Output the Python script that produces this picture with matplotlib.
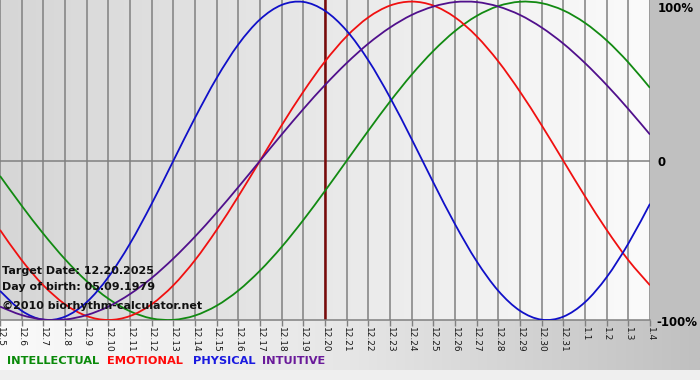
import numpy as np
import matplotlib
matplotlib.use("Agg")
import matplotlib.pyplot as plt
from matplotlib.colors import LinearSegmentedColormap
from matplotlib.path import Path
from matplotlib.patches import PathPatch, Rectangle

# dates on the axis (12.5 .. 1.4), target date sits at index 15
dates = ["12.%d" % d for d in range(5, 32)] + ["1.1", "1.2", "1.3", "1.4"]
target_idx = 15

# cycle values, one per day
intellectual = [-0.095, -0.282, -0.458, -0.618, -0.756, -0.866, -0.945, -0.990, -0.999, -0.972,
                -0.910, -0.815, -0.690, -0.541, -0.372, -0.189, 0.000, 0.189, 0.372, 0.541,
                0.690, 0.815, 0.910, 0.972, 0.999, 0.990, 0.945, 0.866, 0.756, 0.618, 0.458]
emotional = [-0.434, -0.624, -0.782, -0.901, -0.975, -1.000, -0.975, -0.901, -0.782, -0.624,
             -0.434, -0.223, 0.000, 0.223, 0.434, 0.624, 0.782, 0.901, 0.975, 1.000,
             0.975, 0.901, 0.782, 0.624, 0.434, 0.223, 0.000, -0.223, -0.434, -0.624, -0.782]
physical = [-0.817, -0.942, -0.998, -0.979, -0.888, -0.731, -0.520, -0.270, 0.000, 0.270,
            0.520, 0.731, 0.888, 0.979, 0.998, 0.942, 0.817, 0.631, 0.398, 0.136,
            -0.136, -0.398, -0.631, -0.817, -0.942, -0.998, -0.979, -0.888, -0.731, -0.520, -0.270]
intuitive = [-0.916, -0.969, -0.997, -0.997, -0.969, -0.916, -0.837, -0.736, -0.614, -0.476,
             -0.325, -0.165, 0.000, 0.165, 0.325, 0.476, 0.614, 0.736, 0.837, 0.916,
             0.969, 0.997, 0.997, 0.969, 0.916, 0.837, 0.736, 0.614, 0.476, 0.325, 0.165]

series = [("INTELLECTUAL", intellectual, "#128a12", "#0a8a0a"),
          ("EMOTIONAL", emotional, "#f01010", "#ff0a0a"),
          ("PHYSICAL", physical, "#1010c8", "#1a1ae0"),
          ("INTUITIVE", intuitive, "#50108c", "#6a1a9a")]


def smooth_path(xs, ys):
    # curve through every point (Catmull-Rom as cubic bezier segments)
    pts = np.column_stack([xs, ys]).astype(float)
    verts = [pts[0]]
    codes = [Path.MOVETO]
    n = len(pts)
    for i in range(n - 1):
        p0 = pts[i - 1] if i > 0 else pts[i]
        p1, p2 = pts[i], pts[i + 1]
        p3 = pts[i + 2] if i + 2 < n else pts[i + 1]
        verts += [p1 + (p2 - p0) / 6, p2 - (p3 - p1) / 6, p2]
        codes += [Path.CURVE4] * 3
    return Path(verts, codes)


W, H = 700, 380
fig = plt.figure(figsize=(W / 100, H / 100), dpi=100)
fig.patch.set_facecolor("#c0c0c0")

# bottom band: light at left, grey to the right
band = fig.add_axes([0, 10 / H, 1, 50 / H], zorder=0)
band.imshow(np.linspace(0, 1, 256)[None, :], aspect="auto", extent=[0, 1, 0, 1],
            cmap=LinearSegmentedColormap.from_list("b", ["#fafafa", "#e6e6e6", "#c0c0c0"]))
band.axis("off")
fig.patches.append(Rectangle((0, 0), 1, 10 / H, transform=fig.transFigure,
                             facecolor="#efefef", edgecolor="none", zorder=0))

x = np.arange(len(dates))
ax = fig.add_axes([0, 60 / H, 650 / W, 320 / H], zorder=1)
ax.set_facecolor("none")
ax.imshow(np.linspace(0, 1, 256)[None, :], aspect="auto", extent=[0, 30, -1.0, 1.01],
          cmap=LinearSegmentedColormap.from_list("g", ["#d6d6d6", "#fbfbfb"]), zorder=0)
ax.set_xlim(0, 30)
ax.set_ylim(-1.0, 1.01)

for xi in x:
    ax.axvline(xi, color="#808080", lw=1.1, zorder=1)
ax.axhline(0, color="#808080", lw=1.1, zorder=1)
ax.axvline(target_idx, color="#7a0a0a", lw=1.8, zorder=2)

for name, vals, col, _ in series:
    ax.add_patch(PathPatch(smooth_path(x, vals), facecolor="none", edgecolor=col,
                           lw=1.3, zorder=3))

ax.set_xticks(x)
ax.set_xticklabels(dates, rotation=-90, fontsize=6.5, color="#1a1a1a")
ax.tick_params(axis="x", direction="out", length=4, width=1, color="#808080", pad=1)
ax.set_yticks([])
for s in ["top", "left", "right"]:
    ax.spines[s].set_visible(False)
ax.spines["bottom"].set_color("#808080")
ax.spines["bottom"].set_linewidth(1.1)

info = ["Target Date: 12.20.2025", "Day of birth: 05.09.1979",
        "\u00a92010 biorhythm-calculator.net"]
for txt, yp in zip(info, [271, 287, 306]):
    ax.text(2 / 650, (320 - yp) / 320, txt, transform=ax.transAxes, fontsize=8,
            fontweight="bold", color="#111111", va="center", ha="left", zorder=4)

# percentage labels on the right
fig.text(658 / W, 1 - 8 / H, "100%", fontsize=8.5, fontweight="bold", va="center", ha="left")
fig.text(658 / W, 1 - 162 / H, "0", fontsize=8.5, fontweight="bold", va="center", ha="left")
fig.text(656 / W, 1 - 322 / H, "-100%", fontsize=8.5, fontweight="bold", va="center", ha="left")

# legend line
for (name, _, _, tcol), xp in zip(series, [7, 107, 193, 262]):
    fig.text(xp / W, 1 - 361 / H, name, fontsize=8.2, fontweight="bold", color=tcol,
             va="center", ha="left")

fig.savefig("out.png", dpi=100, facecolor=fig.get_facecolor())
